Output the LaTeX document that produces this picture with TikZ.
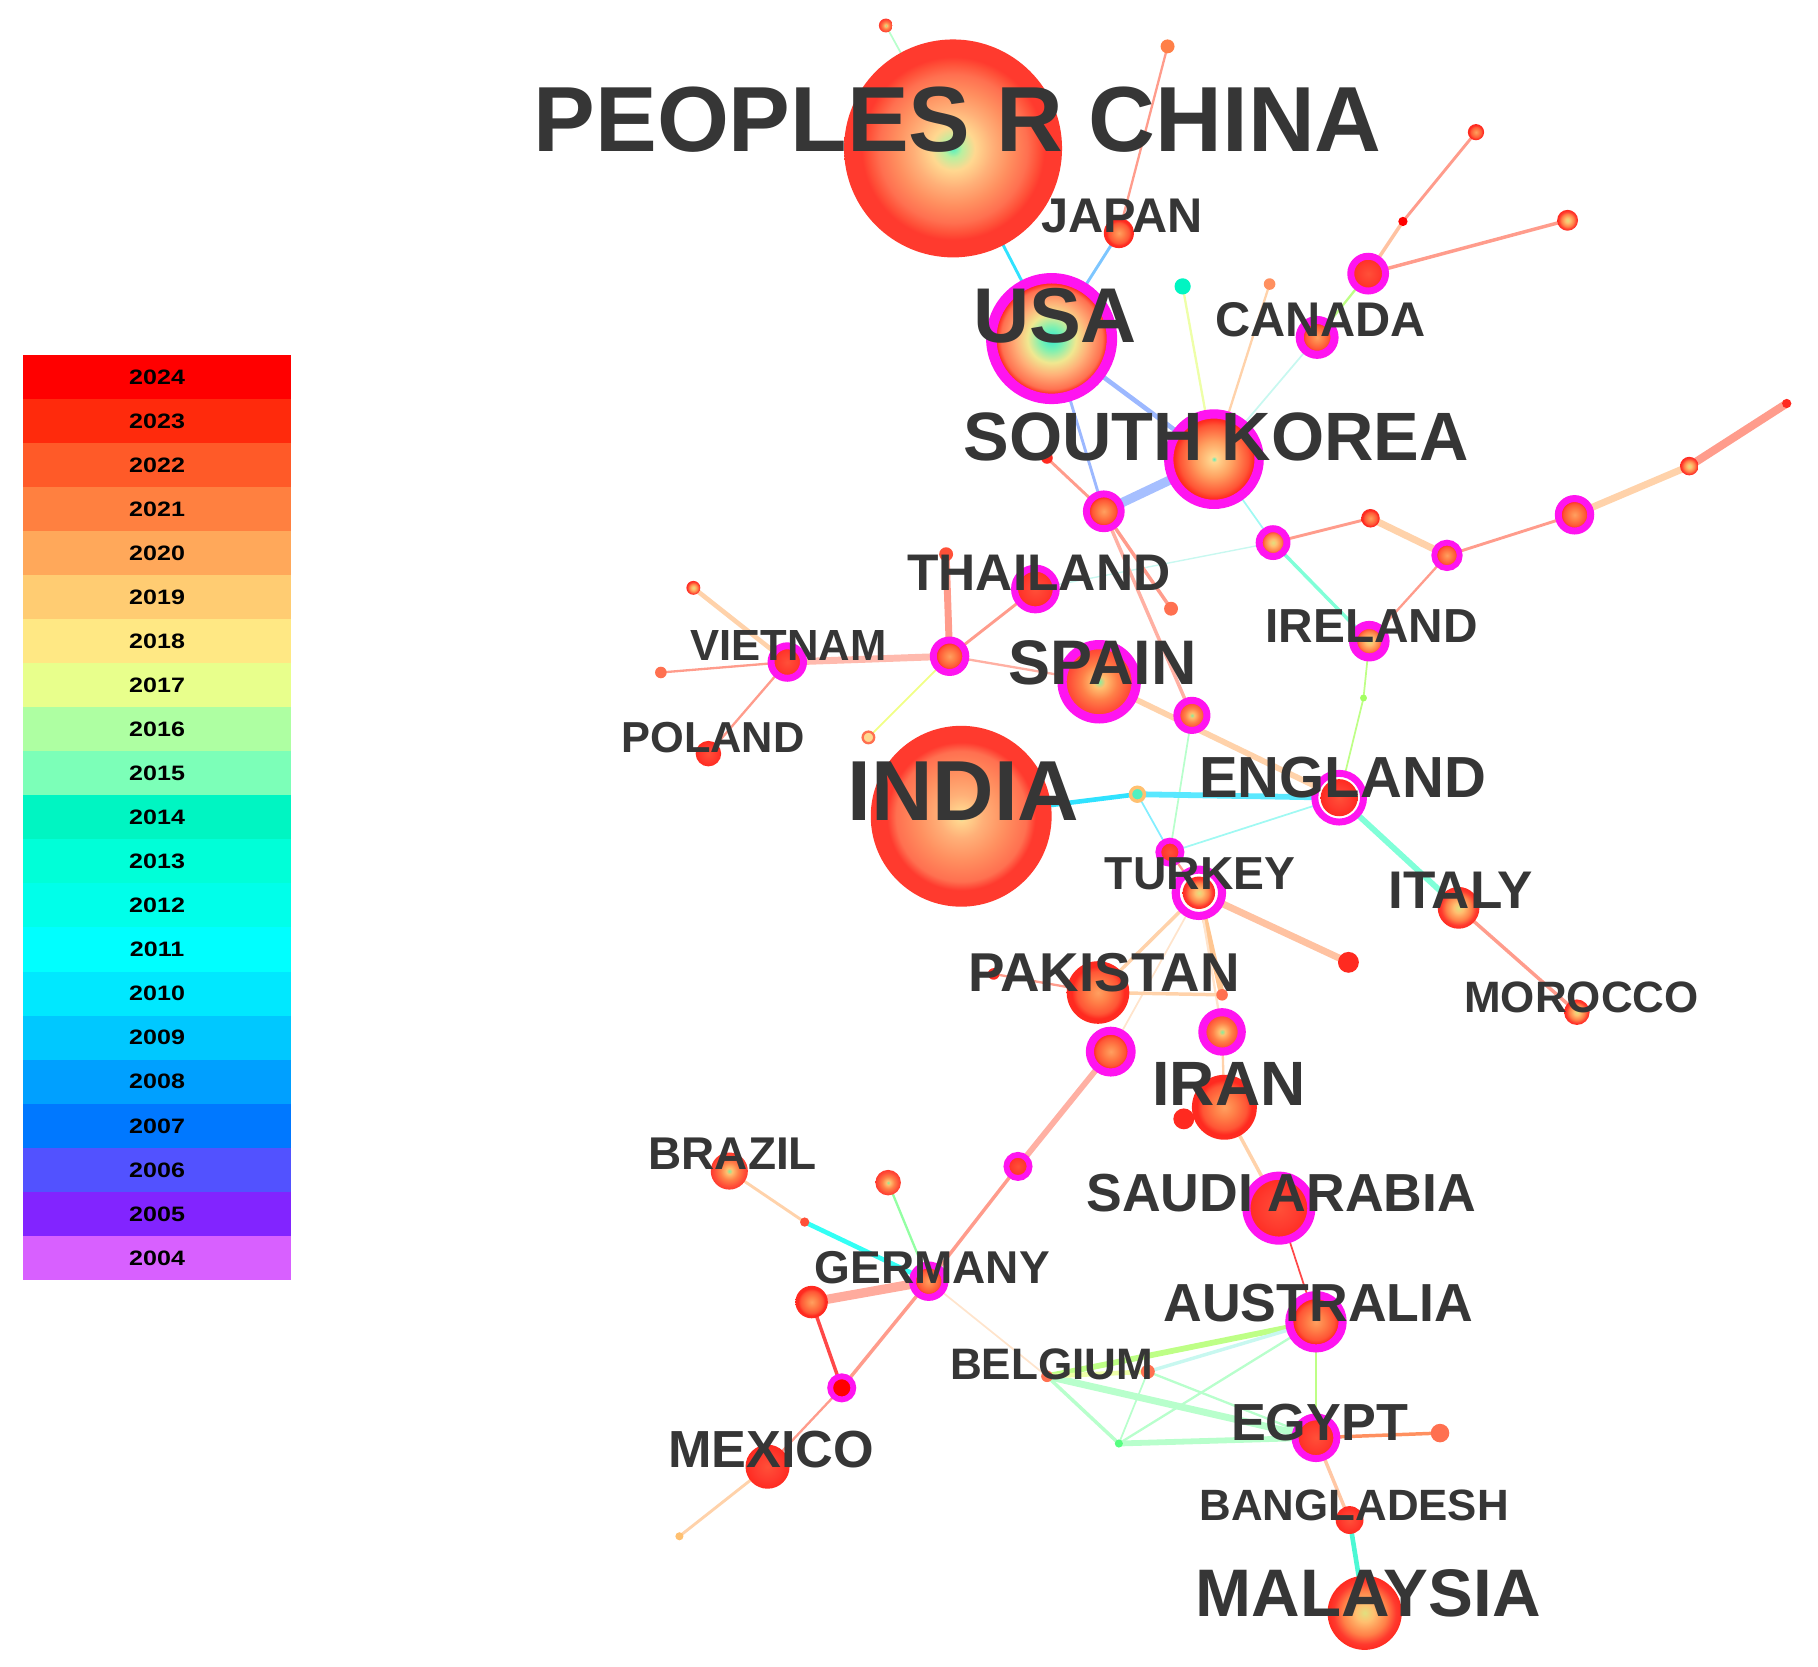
\documentclass[tikz,border=0pt]{standalone}
\usepackage{fontspec}
\usepackage{graphicx}
\setmainfont{Liberation Sans}
\pgfdeclarelayer{edges}
\pgfsetlayers{edges,main}
% legend colours
\definecolor{c24}{HTML}{FF0000}\definecolor{c23}{HTML}{FF2A0C}\definecolor{c22}{HTML}{FF5A28}
\definecolor{c21}{HTML}{FF8040}\definecolor{c20}{HTML}{FFA85A}\definecolor{c19}{HTML}{FFCC72}
\definecolor{c18}{HTML}{FFE884}\definecolor{c17}{HTML}{E8FF8C}\definecolor{c16}{HTML}{AEFFA2}
\definecolor{c15}{HTML}{7CFFB8}\definecolor{c14}{HTML}{00F5C2}\definecolor{c13}{HTML}{00FFD8}
\definecolor{c12}{HTML}{00FFEA}\definecolor{c11}{HTML}{00FFFF}\definecolor{c10}{HTML}{00E8FF}
\definecolor{c09}{HTML}{00C8FF}\definecolor{c08}{HTML}{00A0FF}\definecolor{c07}{HTML}{0078FF}
\definecolor{c06}{HTML}{5252FF}\definecolor{c05}{HTML}{8224FF}\definecolor{c04}{HTML}{D860FF}
% node colours
\definecolor{cText}{HTML}{363636}
\definecolor{cMag}{HTML}{FF14F0}
\definecolor{gA}{HTML}{50F0C0}\definecolor{gB}{HTML}{B8F0A0}\definecolor{yA}{HTML}{FFD890}
\definecolor{pA}{HTML}{FFB078}\definecolor{oA}{HTML}{FF9060}\definecolor{oB}{HTML}{FF7050}
\definecolor{rA}{HTML}{FF5038}\definecolor{rB}{HTML}{FF3A2E}\definecolor{rC}{HTML}{FF2A20}
\definecolor{uA}{HTML}{30E8D0}\definecolor{uB}{HTML}{80F0B0}\definecolor{uC}{HTML}{F0E890}
\definecolor{oC}{HTML}{FFA060}\definecolor{oD}{HTML}{FF8048}\definecolor{rD}{HTML}{FF5535}
\definecolor{gC}{HTML}{80F0A0}\definecolor{yB}{HTML}{FFC070}\definecolor{yC}{HTML}{E0E080}
% edge colours
\definecolor{eSal}{HTML}{FF9C8C}\definecolor{ePch}{HTML}{FFD2AA}\definecolor{eCyn}{HTML}{30E2FF}
\definecolor{eLbl}{HTML}{9CB8FF}\definecolor{eAqu}{HTML}{80FFD8}\definecolor{ePgr}{HTML}{B8FFCC}
\definecolor{ePyl}{HTML}{EEFFA8}\definecolor{ePcy}{HTML}{C8F8F0}\definecolor{eRed}{HTML}{FF4848}
\pgfdeclareradialshading{shBig}{\pgfpoint{0bp}{0bp}}{color(0bp)=(gA); color(2bp)=(gB); color(5bp)=(yA); color(9bp)=(pA); color(13bp)=(oA); color(17bp)=(oB); color(19.5bp)=(rA); color(21bp)=(rB); color(25bp)=(rB); color(50bp)=(rB)}
\pgfdeclareradialshading{shIndia}{\pgfpoint{0bp}{0bp}}{color(0bp)=(gA); color(1.2bp)=(yA); color(6bp)=(pA); color(12bp)=(oA); color(18bp)=(oB); color(20.5bp)=(rB); color(25bp)=(rB); color(50bp)=(rB)}
\pgfdeclareradialshading{shUSA}{\pgfpoint{0bp}{0bp}}{color(0bp)=(uA); color(5bp)=(uB); color(10bp)=(uC); color(15bp)=(pA); color(21bp)=(oB); color(23bp)=(rC); color(25bp)=(rC); color(50bp)=(rC)}
\pgfdeclareradialshading{shKR}{\pgfpoint{0bp}{0bp}}{color(0bp)=(gA); color(1.5bp)=(yA); color(10bp)=(oC); color(19bp)=(rD); color(22bp)=(rC); color(25bp)=(rC); color(50bp)=(rC)}
\pgfdeclareradialshading{shB}{\pgfpoint{0bp}{0bp}}{color(0bp)=(oC); color(8bp)=(oD); color(17bp)=(rD); color(21bp)=(rC); color(25bp)=(rC); color(50bp)=(rC)}
\pgfdeclareradialshading{shC}{\pgfpoint{0bp}{0bp}}{color(0bp)=(gC); color(4bp)=(yB); color(12bp)=(oD); color(20bp)=(rA); color(25bp)=(rB); color(50bp)=(rB)}
\pgfdeclareradialshading{shY}{\pgfpoint{0bp}{0bp}}{color(0bp)=(yC); color(6bp)=(yB); color(15bp)=(oD); color(21bp)=(rB); color(25bp)=(rC); color(50bp)=(rC)}
\pgfdeclareradialshading{shRed}{\pgfpoint{0bp}{0bp}}{color(0bp)=(rA); color(15bp)=(rB); color(25bp)=(rC); color(50bp)=(rC)}
\begin{document}
\begin{tikzpicture}[x=1pt,y=-1pt,
  nd/.style={circle,inner sep=0pt,outer sep=0pt,minimum size=#1},
  mg/.style={draw=cMag,line width=#1},
  sh/.style={shade,shading=#1},
  lbl/.style={inner sep=0pt,text=cText,font=\fontsize{#1pt}{#1pt}\selectfont\bfseries},
  band/.style={minimum width=231pt,minimum height=38.2pt,inner sep=0pt,text=black,font=\fontsize{18pt}{18pt}\selectfont\bfseries},
  ed/.style={line width=#1},
]
\useasboundingbox (0,0) rectangle (1568,1437);
% ---------------- legend
\foreach \yr/\c [count=\i from 0] in {2024/c24,2023/c23,2022/c22,2021/c21,2020/c20,2019/c19,2018/c18,2017/c17,2016/c16,2015/c15,2014/c14,2013/c13,2012/c12,2011/c11,2010/c10,2009/c09,2008/c08,2007/c07,2006/c06,2005/c05,2004/c04}
  \node[band,fill=\c] (leg\yr) at (135.5,{325+38*\i}) {\scalebox{1.2}[1]{\yr}};
% ---------------- nodes
\node[nd=188,sh=shBig] (china) at (822,128) {};
\node[nd=12,sh=shC] (ntop) at (764,22) {};
\node[nd=12,fill=oD] (njt) at (1007,40) {};
\node[nd=26,sh=shB] (japan) at (965,201) {};
\node[nd=104,mg=9,sh=shUSA] (usa) at (907,292) {};
\node[nd=78,mg=8,sh=shKR] (skorea) at (1047,396) {};
\node[nd=30,mg=6,sh=shB] (nkra) at (952,441) {};
\node[nd=10,fill=rC] (nkrb) at (903,395) {};
\node[nd=14,fill=c14] (ncyan) at (1020,247) {};
\node[nd=10,fill=oA] (nora) at (1095,245) {};
\node[nd=30,mg=7,sh=shB] (canada) at (1136,291) {};
\node[nd=30,mg=6,sh=shRed] (ncana) at (1180,236) {};
\node[nd=8,fill=c24] (ncanb) at (1210,191) {};
\node[nd=14,sh=shB] (ncanc) at (1273,114) {};
\node[nd=18,sh=shY] (ncand) at (1352,190) {};
\node[nd=24,mg=6,sh=shY] (nra) at (1098,468) {};
\node[nd=16,sh=shB] (nrb) at (1182,447) {};
\node[nd=22,mg=5,sh=shB] (nrc) at (1248,479) {};
\node[nd=28,mg=6,sh=shB] (nrd) at (1358,444) {};
\node[nd=16,sh=shY] (nre) at (1457,402) {};
\node[nd=8,fill=rC] (nrf) at (1541,348) {};
\node[nd=28,mg=7,sh=shY] (ireland) at (1181,553) {};
\node[nd=6,fill=c17!70!green] (nie) at (1176,602) {};
\node[nd=36,mg=6,sh=shRed] (thailand) at (893,508) {};
\node[nd=12,fill=rA] (ntha) at (816,478) {};
\node[nd=28,mg=6,sh=shB] (nthb) at (819,566) {};
\node[nd=12,fill=oB] (nthc) at (1010,525) {};
\node[nd=64,mg=8,sh=shC] (spain) at (948,588) {};
\node[nd=26,mg=6,sh=shC] (nsp) at (1028,617) {};
\node[nd=28,mg=6,sh=shRed] (vietnam) at (679,571) {};
\node[nd=12,sh=shY] (nvna) at (598,507) {};
\node[nd=10,fill=oB] (nvnb) at (570,580) {};
\node[nd=22,sh=shRed] (poland) at (611,650) {};
\node[nd=10,draw=oB,line width=2,fill=yA] (npl) at (749,636) {};
\node[nd=156,sh=shIndia] (india) at (829,704) {};
\node[nd=12,draw=yB,line width=3,fill=gA] (nin) at (981,685) {};
\node[nd=42,mg=6,fill=white] (england) at (1155,688) {};
\node[nd=32,sh=shRed] (englandc) at (1155,688) {};
\node[nd=20,mg=5,sh=shRed] (ntka) at (1009,735) {};
\node[nd=40,mg=7,fill=white] (turkey) at (1034,770) {};
\node[nd=28,sh=shY] (turkeyc) at (1034,770) {};
\node[nd=18,fill=rC] (ntkb) at (1163,830) {};
\node[nd=36,sh=shY] (italy) at (1258,783) {};
\node[nd=22,sh=shY] (morocco) at (1360,873) {};
\node[nd=54,sh=shB] (pakistan) at (947,856) {};
\node[nd=10,fill=rC] (npka) at (857,840) {};
\node[nd=10,fill=oB] (npkb) at (1054,858) {};
\node[nd=34,mg=7,sh=shC] (npkc) at (1054,890) {};
\node[nd=36,mg=7,sh=shB] (npkd) at (958,907) {};
\node[nd=56,sh=shB] (iran) at (1056,955) {};
\node[nd=18,fill=rC] (nir) at (1021,965) {};
\node[nd=56,mg=7,sh=shRed] (saudi) at (1103,1042) {};
\node[nd=46,mg=7,sh=shB] (australia) at (1135,1140) {};
\node[nd=10,fill=oB] (belgium) at (903,1187) {};
\node[nd=12,fill=oB] (nbea) at (990,1183) {};
\node[nd=7,fill=c15!70!green] (nbeb) at (965,1245) {};
\node[nd=36,mg=6,sh=shRed] (egypt) at (1135,1240) {};
\node[nd=16,fill=oB] (neg) at (1242,1236) {};
\node[nd=24,sh=shRed] (bangladesh) at (1164,1311) {};
\node[nd=64,sh=shY] (malaysia) at (1177,1391) {};
\node[nd=32,sh=shC] (brazil) at (629,1010) {};
\node[nd=8,fill=rA] (nbr) at (694,1054) {};
\node[nd=22,sh=shC] (ndea) at (766,1020) {};
\node[nd=28,mg=6,sh=shB] (germany) at (801,1105) {};
\node[nd=20,mg=5,sh=shRed] (ndeb) at (878,1006) {};
\node[nd=28,sh=shB] (ndec) at (700,1123) {};
\node[nd=20,mg=5,fill=c24] (nded) at (726,1197) {};
\node[nd=38,sh=shRed] (mexico) at (662,1265) {};
\node[nd=7,fill=yB] (nmx) at (586,1325) {};
% ---------------- edges
\begin{pgfonlayer}{edges}
\draw[ed=1.5,ePgr] (china.center) -- (ntop.center);
\draw[ed=2.5,eCyn] (china.center) -- (usa.center);
\draw[ed=2,eSal] (njt.center) -- (japan.center);
\draw[ed=2.5,eLbl!80!cyan] (japan.center) -- (usa.center);
\draw[ed=4,eLbl] (usa.center) -- (skorea.center);
\draw[ed=2.5,eLbl] (usa.center) -- (nkra.center);
\draw[ed=8,eLbl!90!white] (skorea.center) -- (nkra.center);
\draw[ed=2.5,eSal] (nkra.center) -- (nkrb.center);
\draw[ed=2,ePyl] (skorea.center) -- (ncyan.center);
\draw[ed=2,ePch] (skorea.center) -- (nora.center);
\draw[ed=1.5,ePcy] (skorea.center) -- (canada.center);
\draw[ed=2,ePyl!80!green] (canada.center) -- (ncana.center);
\draw[ed=3,ePch!70!eSal] (ncana.center) -- (ncanb.center);
\draw[ed=2.5,eSal] (ncanb.center) -- (ncanc.center);
\draw[ed=3,eSal] (ncana.center) -- (ncand.center);
\draw[ed=1.5,ePcy!80!cyan] (skorea.center) -- (nra.center);
\draw[ed=2.5,eSal] (nra.center) -- (nrb.center);
\draw[ed=6,ePch] (nrb.center) -- (nrc.center);
\draw[ed=2.5,eSal] (nrc.center) -- (nrd.center);
\draw[ed=6,ePch] (nrd.center) -- (nre.center);
\draw[ed=7,eSal] (nre.center) -- (nrf.center);
\draw[ed=2,eSal] (nrc.center) -- (ireland.center);
\draw[ed=3,eAqu] (nra.center) -- (ireland.center);
\draw[ed=1.2,ePcy] (nra.center) -- (thailand.center);
\draw[ed=1.5,ePyl!80!green] (ireland.center) -- (nie.center) -- (england.center);
\draw[ed=3,eSal] (nkra.center) -- (nthc.center);
\draw[ed=3,eSal!80!white] (nkra.center) -- (nsp.center);
\draw[ed=2.5,eSal] (thailand.center) -- (nthb.center);
\draw[ed=6,eSal] (ntha.center) -- (nthb.center);
\draw[ed=2,eSal!80!white] (nthb.center) -- (spain.center);
\draw[ed=6,eSal!70!white] (nthb.center) -- (vietnam.center);
\draw[ed=1.5,ePyl!80!yellow] (nthb.center) -- (npl.center);
\draw[ed=4,ePch] (vietnam.center) -- (nvna.center);
\draw[ed=2,eSal] (vietnam.center) -- (nvnb.center);
\draw[ed=2,eSal] (vietnam.center) -- (poland.center);
\draw[ed=5,ePch] (spain.center) -- (england.center);
\draw[ed=1.5,ePgr] (nsp.center) -- (ntka.center);
\draw[ed=4,eCyn] (india.center) -- (nin.center);
\draw[ed=5,eCyn!80!white] (nin.center) -- (england.center);
\draw[ed=1.5,eCyn!60!white] (nin.center) -- (ntka.center);
\draw[ed=1.5,ePcy!80!cyan] (england.center) -- (ntka.center);
\draw[ed=5,eAqu] (england.center) -- (italy.center);
\draw[ed=3,eSal] (italy.center) -- (morocco.center);
\draw[ed=2,eSal] (ntka.center) -- (turkey.center);
\draw[ed=6,ePch!70!eSal] (turkey.center) -- (ntkb.center);
\draw[ed=5,ePch!85!orange] (turkey.center) -- (npkb.center);
\draw[ed=3,ePch] (turkey.center) -- (pakistan.center);
\draw[ed=2,ePch!60!white] (turkey.center) -- (npkc.center);
\draw[ed=1.5,ePch!60!white] (turkey.center) -- (npkd.center);
\draw[ed=2,eSal] (npka.center) -- (pakistan.center);
\draw[ed=3,ePch] (pakistan.center) -- (npkb.center);
\draw[ed=2,ePch] (npkc.center) -- (iran.center);
\draw[ed=3,ePch] (iran.center) -- (saudi.center);
\draw[ed=5,eSal!80!white] (npkd.center) -- (ndeb.center);
\draw[ed=3,eSal] (ndeb.center) -- (germany.center);
\draw[ed=1.5,eRed] (saudi.center) -- (australia.center);
\draw[ed=2.5,ePyl!80!green] (australia.center) -- (egypt.center);
\draw[ed=5,ePyl!80!green] (australia.center) -- (belgium.center);
\draw[ed=3,ePcy] (australia.center) -- (nbea.center);
\draw[ed=2,ePgr] (australia.center) -- (nbeb.center);
\draw[ed=6,ePgr] (belgium.center) -- (egypt.center);
\draw[ed=3,ePgr] (belgium.center) -- (nbeb.center);
\draw[ed=5,ePgr] (nbeb.center) -- (egypt.center);
\draw[ed=2,ePgr] (nbea.center) -- (egypt.center);
\draw[ed=1.5,ePgr] (nbea.center) -- (nbeb.center);
\draw[ed=4,ePyl] (belgium.center) -- (nbea.center);
\draw[ed=3,oA] (egypt.center) -- (neg.center);
\draw[ed=3,ePch!80!eSal] (egypt.center) -- (bangladesh.center);
\draw[ed=4,c14!70!white] (bangladesh.center) -- (malaysia.center);
\draw[ed=2.5,ePch] (brazil.center) -- (nbr.center);
\draw[ed=4,c12!60!cyan!80!white] (nbr.center) -- (germany.center);
\draw[ed=2,ePgr!80!green] (ndea.center) -- (germany.center);
\draw[ed=8,eSal!85!white] (germany.center) -- (ndec.center);
\draw[ed=3,eRed] (ndec.center) -- (nded.center);
\draw[ed=3,eSal] (germany.center) -- (nded.center);
\draw[ed=2,eSal] (nded.center) -- (mexico.center);
\draw[ed=2.5,ePch] (mexico.center) -- (nmx.center);
\draw[ed=1.5,ePch!60!white] (germany.center) -- (belgium.center);
\end{pgfonlayer}
% ---------------- labels
\node[lbl=79.8] (tchina) at (826,103) {PEOPLES R CHINA};
\node[lbl=42] (tjapan) at (968,186) {JAPAN};
\node[lbl=67] (tusa) at (910,272) {USA};
\node[lbl=59] (tkorea) at (1049,377) {SOUTH KOREA};
\node[lbl=42] (tcanada) at (1139,276) {CANADA};
\node[lbl=44.4] (tthai) at (896,494) {THAILAND};
\node[lbl=41.2] (tireland) at (1183,540) {IRELAND};
\node[lbl=37.6] (tviet) at (680,557) {VIETNAM};
\node[lbl=54.3] (tspain) at (951,572) {SPAIN};
\node[lbl=37.4] (tpoland) at (615,636) {POLAND};
\node[lbl=73.5] (tindia) at (831,682) {INDIA};
\node[lbl=50] (tengland) at (1158,671) {ENGLAND};
\node[lbl=39.9] (tturkey) at (1035,754) {TURKEY};
\node[lbl=45.7] (titaly) at (1260,768) {ITALY};
\node[lbl=37.9] (tmorocco) at (1364,860) {MOROCCO};
\node[lbl=47.2] (tpak) at (952,839) {PAKISTAN};
\node[lbl=54] (tiran) at (1060,935) {IRAN};
\node[lbl=46.2] (tsaudi) at (1105,1029) {SAUDI ARABIA};
\node[lbl=46.2] (taus) at (1137,1124) {AUSTRALIA};
\node[lbl=38] (tbel) at (907,1177) {BELGIUM};
\node[lbl=45] (tegypt) at (1138,1227) {EGYPT};
\node[lbl=37.8] (tbang) at (1168,1298) {BANGLADESH};
\node[lbl=58] (tmal) at (1180,1374) {MALAYSIA};
\node[lbl=39.6] (tbrazil) at (632,995) {BRAZIL};
\node[lbl=39.7] (tgermany) at (804,1093) {GERMANY};
\node[lbl=45] (tmexico) at (665,1250) {MEXICO};
\end{tikzpicture}
\end{document}
